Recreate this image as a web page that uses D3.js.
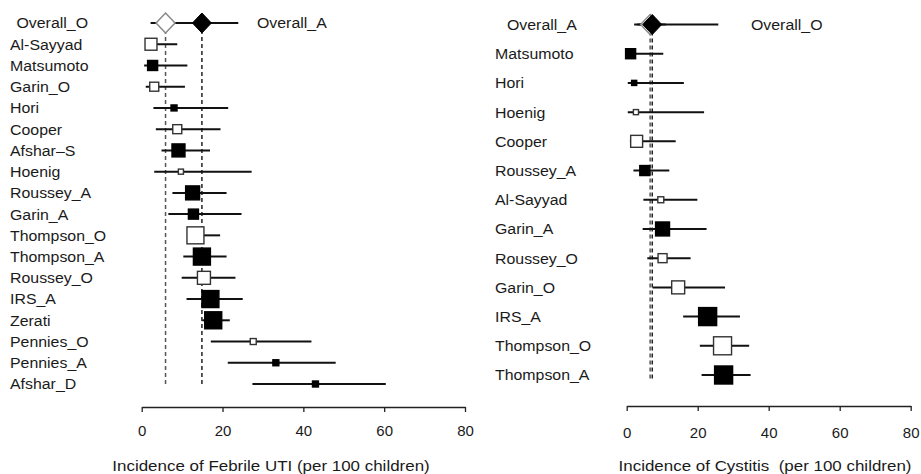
<!DOCTYPE html>
<html>
<head>
<meta charset="utf-8">
<script src="https://cdn.jsdelivr.net/npm/d3@7"></script>
<style>
  body { margin: 0; background: #fff; }
  text { font-family: Arial, "Liberation Sans", sans-serif; fill: #1a1a1a; white-space: pre; }
</style>
</head>
<body>
<div id="chart"></div>
<script>
// ---- febrile UTI panel (left) ----
const febStudies = ["Overall_O", "Al-Sayyad", "Matsumoto", "Garin_O", "Hori", "Cooper", "Afshar\u2013S", "Hoenig",
  "Roussey_A", "Garin_A", "Thompson_O", "Thompson_A", "Roussey_O", "IRS_A", "Zerati", "Pennies_O", "Pennies_A", "Afshar_D"];
const febEst   = [5.9, 2.3, 2.7, 3.1, 8.0, 8.8, 9.1, 9.7, 12.6, 12.8, 13.3, 14.9, 15.4, 17.0, 17.7, 27.6, 33.2, 43.0];
const febLow   = [2.2, 0.8, 0.6, 1.0, 2.9, 3.5, 4.9, 3.1, 7.6, 6.6, 12.0, 10.3, 9.9, 11.1, 15.0, 17.1, 21.3, 27.4];
const febHigh  = [10.5, 8.8, 11.3, 10.7, 21.4, 19.5, 16.9, 27.2, 21.0, 24.7, 19.4, 21.0, 23.2, 25.0, 21.8, 42.0, 48.0, 60.4];
const febWeight = [0, 44, 31, 25, 11, 25, 52, 8, 60, 31, 89, 89, 52, 89, 89, 11, 11, 11];
const febOpen  = [true, true, false, true, false, true, false, true, false, false, true, false, true, false, false, true, false, false];
// pooled estimate for the "A" group, drawn in row 0
const febPoolA = { name: "Overall_A", est: 14.9, lo: 10.0, hi: 23.9 };

// ---- cystitis panel (right) ----
const cysStudies = ["Overall_A", "Matsumoto", "Hori", "Hoenig", "Cooper", "Roussey_A", "Al-Sayyad", "Garin_A",
  "Roussey_O", "Garin_O", "IRS_A", "Thompson_O", "Thompson_A"];
const cysEst   = [7.2, 1.1, 2.1, 2.6, 2.8, 5.1, 9.6, 10.1, 10.1, 14.5, 22.8, 27.0, 27.3];
const cysLow   = [2.1, 0.6, 0.3, 0.3, 0.9, 1.9, 4.7, 4.5, 5.8, 7.3, 15.9, 20.6, 21.1];
const cysHigh  = [25.8, 10.3, 16.1, 21.8, 13.8, 12.0, 19.9, 22.5, 18.0, 27.7, 31.9, 34.5, 34.9];
const cysWeight = [0, 31, 8, 8, 44, 31, 11, 60, 25, 52, 100, 100, 100];
const cysOpen  = [false, false, false, true, true, false, true, false, true, true, false, true, false];
const cysPoolO = { name: "Overall_O", est: 6.6, lo: 3.0, hi: 11.0 };

const xTicks = [0, 20, 40, 60, 80];

var svg = d3.select("#chart").append("svg")
  .attr("width", 921)
  .attr("height", 474);

// side length of a study square from its weight
var sizeScale = d3.scaleSqrt().domain([0, 100]).range([0, 18]);

// the original text is a little wider than Arial, so stretch it horizontally
function label(g, x, y, str, size, stretch, anchor) {
  return g.append("text")
    .attr("transform", `translate(${x},${y}) scale(${stretch},1)`)
    .attr("dy", "0.36em")
    .attr("font-size", size)
    .attr("text-anchor", anchor || "start")
    .text(str);
}

function forest(cfg) {
  var x = d3.scaleLinear().domain([0, 80]).range(cfg.xRange);
  var y = d3.scalePoint().domain(d3.range(cfg.names.length)).range(cfg.yRange);
  var g = svg.append("g");

  var rows = cfg.names.map((n, i) => ({
    name: n, est: cfg.est[i], lo: cfg.lo[i], hi: cfg.hi[i], w: cfg.weight[i], open: cfg.open[i], i: i
  }));

  // dashed reference lines at the two pooled estimates
  [rows[0].est, cfg.pool.est].forEach((v, k) => {
    g.append("line")
      .attr("x1", x(v)).attr("x2", x(v))
      .attr("y1", y(0)).attr("y2", y(rows.length - 1) + cfg.dashExtra)
      .attr("stroke", k == (cfg.openFirst ? 0 : 1) ? "#555" : "#222")
      .attr("stroke-width", 1.5)
      .attr("stroke-dasharray", "4,3");
  });

  // confidence intervals
  g.selectAll(".ci").data(rows).join("line")
    .attr("x1", d => x(d.lo)).attr("x2", d => x(d.hi))
    .attr("y1", d => y(d.i)).attr("y2", d => y(d.i))
    .attr("stroke", "#111").attr("stroke-width", 2);
  g.append("line")
    .attr("x1", x(cfg.pool.lo)).attr("x2", x(cfg.pool.hi))
    .attr("y1", y(0)).attr("y2", y(0))
    .attr("stroke", "#111").attr("stroke-width", 2);

  // study squares
  g.selectAll(".sq").data(rows.slice(1)).join("rect")
    .attr("x", d => x(d.est) - sizeScale(d.w) / 2)
    .attr("y", d => y(d.i) - sizeScale(d.w) / 2)
    .attr("width", d => sizeScale(d.w))
    .attr("height", d => sizeScale(d.w))
    .attr("fill", d => d.open ? "#fff" : "#000")
    .attr("stroke", d => d.open ? "#333" : "#000")
    .attr("stroke-width", 1.4);

  // pooled diamonds: hollow one first, filled one on top
  var diamond = (cx, cy) => `M${cx - 9.5},${cy} L${cx},${cy - 10} L${cx + 9.5},${cy} L${cx},${cy + 10} Z`;
  var hollow = cfg.openFirst ? rows[0].est : cfg.pool.est;
  var filled = cfg.openFirst ? cfg.pool.est : rows[0].est;
  g.append("path").attr("d", diamond(x(hollow), y(0)))
    .attr("fill", "#fff").attr("stroke", "#888").attr("stroke-width", 1.5);
  g.append("path").attr("d", diamond(x(filled), y(0)))
    .attr("fill", "#000").attr("stroke", "#000").attr("stroke-width", 1);

  // study labels
  rows.forEach(d => {
    label(g, d.i == 0 ? cfg.labelX + cfg.firstIndent : cfg.labelX, y(d.i), d.name, 15, 1.06);
  });
  label(g, cfg.poolLabelX, y(0), cfg.pool.name, 15, 1.06);

  // x axis
  var axis = g.append("g")
    .attr("transform", `translate(0,${cfg.axisY})`)
    .call(d3.axisBottom(x).tickValues(xTicks).tickSize(5).tickSizeOuter(0).tickPadding(cfg.tickPad));
  axis.select(".domain").attr("stroke", "#222").attr("stroke-width", 1.3);
  axis.selectAll(".tick line").attr("stroke", "#222").attr("stroke-width", 1.3);
  axis.selectAll(".tick text").attr("font-size", 15).attr("font-family", "Arial, 'Liberation Sans', sans-serif").attr("fill", "#1a1a1a");

  label(g, cfg.titleX, 466, cfg.title, 15, 1.13, "middle");
}

forest({
  names: febStudies, est: febEst, lo: febLow, hi: febHigh, weight: febWeight, open: febOpen,
  pool: febPoolA, openFirst: true,
  xRange: [141.7, 465], yRange: [23, 384], dashExtra: 0,
  labelX: 10, firstIndent: 6.5, poolLabelX: 257,
  axisY: 407, tickPad: 13, titleX: 271,
  title: "Incidence of Febrile UTI (per 100 children)"
});

forest({
  names: cysStudies, est: cysEst, lo: cysLow, hi: cysHigh, weight: cysWeight, open: cysOpen,
  pool: cysPoolO, openFirst: false,
  xRange: [626.7, 910.7], yRange: [24.5, 375], dashExtra: 6,
  labelX: 495, firstIndent: 12, poolLabelX: 751,
  axisY: 406, tickPad: 16.5, titleX: 765,
  title: "Incidence of Cystitis  (per 100 children)"
});
</script>
</body>
</html>
